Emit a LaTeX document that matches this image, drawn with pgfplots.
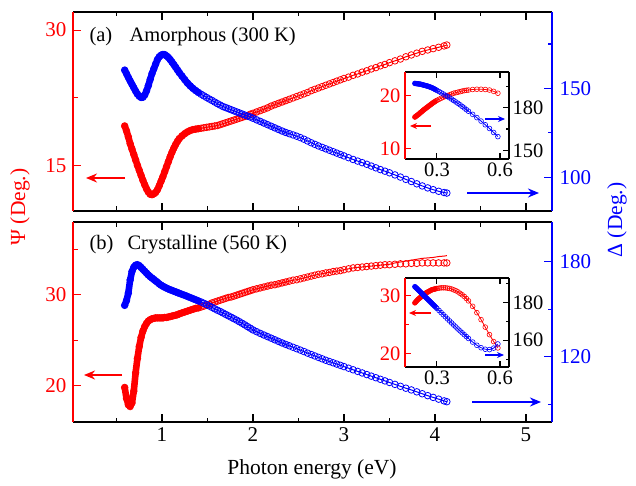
\documentclass[border=0pt]{standalone}
\usepackage{fontspec}
\setmainfont{Liberation Serif}
\usepackage{pgfplots}
\usepackage{pgfplotstable}
\pgfplotsset{compat=1.18}
\usetikzlibrary{arrows.meta}

\pgfplotstableread{
E psia dela psib delb psibfit
0.59 19.4 160.3 19.8 152.5 19.8
0.61 18.85 158.3 18.6 155.5 18.6
0.63 18.2 156.2 17.9 160.2 17.9
0.65 17.45 154.2 17.7 168.5 17.7
0.67 16.85 152.3 18.1 173.8 18.1
0.69 16.25 150.4 19.4 176.5 19.4
0.71 15.65 148.5 21.4 177.8 21.4
0.73 15.05 146.8 23.0 178.1 23.0
0.75 14.5 145.6 24.3 177.5 24.3
0.77 13.95 144.9 25.3 176.4 25.3
0.79 13.4 145.0 26.0 175.2 26.0
0.81 12.9 146.3 26.5 174.0 26.5
0.83 12.45 148.6 26.85 172.8 26.85
0.85 12.1 151.6 27.1 171.6 27.1
0.87 11.85 155.0 27.25 170.6 27.25
0.89 11.8 158.3 27.35 169.7 27.35
0.91 11.9 161.0 27.4 168.8 27.4
0.93 12.05 163.7 27.45 167.9 27.45
0.95 12.35 166.2 27.45 167.0 27.45
0.97 12.8 167.8 27.45 166.0 27.45
0.99 13.3 168.7 27.45 165.2 27.45
1.01 13.8 169.1 27.45 164.5 27.45
1.03 14.35 169.0 27.5 163.9 27.5
1.05 14.9 168.3 27.5 163.3 27.5
1.07 15.45 167.4 27.55 162.8 27.55
1.09 16.0 166.2 27.6 162.3 27.6
1.11 16.5 164.8 27.65 161.9 27.65
1.13 16.95 163.4 27.7 161.4 27.7
1.15 17.35 161.9 27.75 161.0 27.75
1.17 17.7 160.4 27.8 160.5 27.8
1.19 18.0 158.9 27.9 160.1 27.9
1.22 18.3 156.9 28.0 159.4 28.0
1.25 18.55 154.9 28.1 158.8 28.1
1.28 18.75 153.0 28.2 158.1 28.2
1.31 18.9 151.4 28.3 157.4 28.3
1.34 19.0 150.0 28.4 156.7 28.4
1.37 19.05 148.8 28.5 156.0 28.5
1.40 19.1 147.7 28.55 155.3 28.55
1.43 19.15 146.7 28.65 154.6 28.65
1.46 19.2 145.8 28.75 153.8 28.75
1.49 19.25 144.9 28.85 153.0 28.85
1.52 19.3 144.0 28.95 152.1 28.95
1.55 19.35 143.2 29.1 151.2 29.1
1.58 19.4 142.3 29.2 150.3 29.2
1.61 19.45 141.4 29.3 149.4 29.3
1.64 19.55 140.6 29.4 148.6 29.4
1.67 19.65 139.8 29.5 147.7 29.5
1.70 19.75 139.2 29.6 146.8 29.6
1.73 19.85 138.6 29.7 145.9 29.7
1.76 19.95 138.0 29.75 145.0 29.75
1.79 20.05 137.4 29.85 144.1 29.85
1.82 20.15 136.8 29.95 143.2 29.95
1.85 20.25 136.2 30.05 142.2 30.05
1.88 20.35 135.6 30.15 141.2 30.15
1.91 20.45 135.0 30.25 140.2 30.25
1.94 20.55 134.4 30.35 139.1 30.35
1.97 20.7 133.9 30.45 138.1 30.45
2.00 20.8 133.2 30.55 137.0 30.55
2.04 20.95 132.3 30.65 135.9 30.65
2.08 21.1 131.4 30.75 134.8 30.75
2.12 21.25 130.5 30.85 133.8 30.85
2.16 21.4 129.6 30.95 132.8 30.95
2.20 21.6 128.7 31.05 131.8 31.05
2.24 21.75 127.8 31.1 130.8 31.1
2.28 21.9 126.9 31.2 129.8 31.2
2.32 22.05 126.0 31.3 128.8 31.3
2.36 22.2 125.2 31.4 127.9 31.4
2.40 22.35 124.5 31.5 127.0 31.5
2.44 22.5 123.8 31.6 126.1 31.6
2.48 22.65 123.1 31.65 125.2 31.65
2.52 22.8 122.3 31.75 124.3 31.75
2.56 22.95 121.4 31.85 123.4 31.85
2.60 23.1 120.4 31.95 122.4 31.95
2.64 23.3 119.4 32.05 121.5 32.05
2.68 23.45 118.5 32.15 120.6 32.15
2.72 23.6 117.6 32.25 119.7 32.25
2.76 23.75 116.8 32.3 118.8 32.3
2.80 23.9 116.0 32.4 117.9 32.4
2.84 24.05 115.2 32.45 117.1 32.45
2.88 24.2 114.4 32.55 116.3 32.55
2.92 24.35 113.6 32.6 115.5 32.6
2.96 24.5 112.8 32.65 114.7 32.65
3.00 24.65 112.0 32.75 113.9 32.75
3.05 24.8 111.0 32.85 112.9 32.85
3.10 25.0 110.0 32.95 111.9 32.95
3.15 25.15 109.1 33.0 110.9 33.0
3.20 25.35 108.2 33.05 109.9 33.05
3.25 25.5 107.3 33.1 108.9 33.1
3.30 25.7 106.3 33.15 107.9 33.15
3.35 25.85 105.3 33.2 106.9 33.2
3.40 26.05 104.3 33.25 105.9 33.25
3.45 26.2 103.4 33.3 104.9 33.3
3.50 26.4 102.5 33.3 103.9 33.35
3.56 26.6 101.3 33.35 102.7 33.5
3.62 26.8 100.1 33.4 101.5 33.6
3.68 27.05 98.8 33.4 100.3 33.7
3.74 27.25 97.6 33.45 99.2 33.8
3.80 27.45 96.3 33.45 98.0 33.9
3.86 27.65 95.1 33.5 96.8 34.0
3.92 27.8 94.0 33.5 95.6 34.05
3.98 27.95 93.0 33.5 94.5 34.1
4.04 28.1 92.1 33.5 93.4 34.2
4.10 28.25 91.4 33.5 92.3 34.25
4.13 28.35 91.1 33.5 91.8 34.3
}\maindata

\pgfplotstableread{
E psia dela psib delb
0.195 16.0 197.0 28.8 188.3
0.200 16.15 196.9 29.0 187.8
0.205 16.3 196.8 29.2 187.3
0.210 16.45 196.7 29.4 186.7
0.215 16.6 196.6 29.55 186.2
0.220 16.8 196.5 29.7 185.6
0.225 16.95 196.3 29.85 185.1
0.230 17.1 196.1 30.0 184.5
0.235 17.3 195.9 30.15 184.0
0.240 17.45 195.7 30.3 183.4
0.245 17.6 195.5 30.45 182.9
0.250 17.75 195.3 30.55 182.3
0.255 17.9 195.1 30.65 181.8
0.260 18.05 194.9 30.75 181.2
0.265 18.2 194.6 30.85 180.7
0.270 18.35 194.3 30.95 180.1
0.275 18.5 194.0 31.05 179.6
0.280 18.65 193.7 31.1 179.0
0.285 18.8 193.3 31.15 178.5
0.290 18.9 192.9 31.2 177.9
0.295 19.05 192.5 31.25 177.4
0.300 19.15 192.1 31.3 176.8
0.31 19.35 191.3 31.35 175.7
0.32 19.55 190.4 31.4 174.6
0.33 19.75 189.6 31.4 173.5
0.34 19.9 188.7 31.4 172.4
0.35 20.05 187.8 31.35 171.3
0.36 20.2 186.9 31.3 170.2
0.37 20.35 186.0 31.2 169.1
0.38 20.5 185.0 31.05 168.0
0.39 20.6 184.0 30.9 167.0
0.40 20.7 183.0 30.7 165.9
0.41 20.8 182.0 30.45 164.9
0.42 20.9 180.9 30.2 163.9
0.43 21.0 179.8 29.9 162.9
0.44 21.05 178.6 29.55 161.9
0.45 21.1 177.5 29.15 160.9
0.47 21.2 175.3 28.2 159.0
0.49 21.25 173.0 27.1 157.3
0.51 21.25 170.6 25.9 156.0
0.53 21.2 168.0 24.6 155.2
0.55 21.1 165.4 23.3 155.0
0.57 20.85 162.6 22.1 155.8
0.59 20.5 159.7 21.0 158.0
}\insetdata

\pgfplotsset{
  base/.style={scale only axis, anchor=south west, tick align=inside,
    /pgf/number format/assume math mode=true,
    tick label style={font=\fontsize{21}{23}\selectfont}},
  mainsz/.style={width=479pt, xmin=0.022, xmax=5.286,
    major tick length=8pt, minor tick length=4.5pt},
  insz/.style={width=104pt, xmin=0.148, xmax=0.643,
    major tick length=6pt, minor tick length=3.5pt,
    tick label style={font=\fontsize{20.5}{22}\selectfont}},
  frameax/.style={base, axis x line*=box, axis y line=none, ymin=0, ymax=1,
    axis line style={line width=1.6pt, black},
    every tick/.append style={black, line width=1.1pt}},
  leftax/.style={base, axis x line=none, axis y line*=left,
    axis line style={line width=1.6pt, red},
    every tick/.append style={red, line width=1.1pt}, yticklabel style={red}},
  rightax/.style={base, axis x line=none, axis y line*=right,
    axis line style={line width=1.6pt, #1},
    every tick/.append style={#1, line width=1.1pt}, yticklabel style={#1}},
  dat/.style={#1, line width=1pt, mark=o, mark size=3.3pt, mark options={line width=0.8pt, solid}},
  band/.style={#1, line width=6.6pt, line cap=round, line join=round, no marks},
  hband/.style={#1, opacity=0.35, line width=6.4pt, line cap=butt, line join=round, no marks},
  idat/.style={#1, line width=0.8pt, mark=o, mark size=2.4pt, mark options={line width=0.6pt, solid}},
  iband/.style={#1, line width=4.8pt, line cap=round, line join=round, no marks},
}

\begin{document}
\begin{tikzpicture}
\useasboundingbox (0,0) rectangle (636pt,485pt);

% ---------- Panel (a) ----------
\begin{axis}[frameax, mainsz, at={(73pt,274pt)}, height=199pt,
  xtick={1,2,3,4,5}, minor xtick={0.5,1.5,2.5,3.5,4.5}, xticklabels={}]
\end{axis}
\begin{axis}[leftax, mainsz, at={(73pt,274pt)}, height=199pt,
  ymin=10, ymax=32, ytick={15,30}, minor ytick={22.5},
  yticklabel style={xshift=-3pt}]
\addplot[band=red, restrict x to domain=0.5:1.4] table[x=E,y=psia]{\maindata};
\addplot[hband=red, restrict x to domain=1.38:2.4] table[x=E,y=psia]{\maindata};
\addplot[dat=red] table[x=E,y=psia]{\maindata};
\end{axis}
\begin{axis}[rightax=blue, mainsz, at={(73pt,274pt)}, height=199pt,
  ymin=81, ymax=193, ytick={100,150}, minor ytick={125,175},
  yticklabel style={xshift=4pt}]
\addplot[band=blue, restrict x to domain=0.5:1.4] table[x=E,y=dela]{\maindata};
\addplot[hband=blue, restrict x to domain=1.38:2.4] table[x=E,y=dela]{\maindata};
\addplot[dat=blue] table[x=E,y=dela]{\maindata};
\end{axis}

% ---------- Panel (b) ----------
\begin{axis}[frameax, mainsz, at={(73pt,63pt)}, height=200pt,
  xtick={1,2,3,4,5}, minor xtick={0.5,1.5,2.5,3.5,4.5}, xticklabel pos=lower,
  xticklabel style={yshift=-2pt}]
\end{axis}
\begin{axis}[leftax, mainsz, at={(73pt,63pt)}, height=200pt,
  ymin=16, ymax=38, ytick={20,30}, minor ytick={25,35},
  yticklabel style={xshift=-3pt}]
\addplot[band=red, restrict x to domain=0.5:1.4] table[x=E,y=psib]{\maindata};
\addplot[hband=red, restrict x to domain=1.38:2.4] table[x=E,y=psib]{\maindata};
\addplot[red, line width=1pt] table[x=E,y=psibfit]{\maindata};
\addplot[red, only marks, mark=o, mark size=3.3pt, mark options={line width=0.8pt}] table[x=E,y=psib]{\maindata};
\end{axis}
\begin{axis}[rightax=blue, mainsz, at={(73pt,63pt)}, height=200pt,
  ymin=79, ymax=205, ytick={120,180}, minor ytick={90,150},
  yticklabel style={xshift=4pt}]
\addplot[band=blue, restrict x to domain=0.5:1.4] table[x=E,y=delb]{\maindata};
\addplot[hband=blue, restrict x to domain=1.38:2.4] table[x=E,y=delb]{\maindata};
\addplot[dat=blue] table[x=E,y=delb]{\maindata};
\end{axis}

% ---------- Inset (a) ----------
\begin{axis}[frameax, insz, at={(405pt,326pt)}, height=87pt,
  axis background/.style={fill=white},
  xtick={0.3,0.6}, xticklabel pos=lower]
\end{axis}
\begin{axis}[leftax, insz, at={(405pt,326pt)}, height=87pt,
  ymin=8.1, ymax=24.5, ytick={10,20}, yticklabel style={xshift=-1pt}]
\addplot[iband=red, restrict x to domain=0.1:0.29] table[x=E,y=psia]{\insetdata};
\addplot[idat=red] table[x=E,y=psia]{\insetdata};
\end{axis}
\begin{axis}[rightax=black, insz, at={(405pt,326pt)}, height=87pt,
  ymin=144, ymax=205, ytick={150,180}, minor ytick={165,195}]
\addplot[iband=blue, restrict x to domain=0.1:0.29] table[x=E,y=dela]{\insetdata};
\addplot[idat=blue] table[x=E,y=dela]{\insetdata};
\end{axis}

% ---------- Inset (b) ----------
\begin{axis}[frameax, insz, at={(405pt,118pt)}, height=89pt,
  axis background/.style={fill=white},
  xtick={0.3,0.6}, xticklabel pos=lower]
\end{axis}
\begin{axis}[leftax, insz, at={(405pt,118pt)}, height=89pt,
  ymin=17.7, ymax=33.1, ytick={20,30}, minor ytick={25}, yticklabel style={xshift=-1pt}]
\addplot[iband=red, restrict x to domain=0.1:0.29] table[x=E,y=psib]{\insetdata};
\addplot[idat=red] table[x=E,y=psib]{\insetdata};
\end{axis}
\begin{axis}[rightax=black, insz, at={(405pt,118pt)}, height=89pt,
  ymin=145.8, ymax=192.9, ytick={160,180}, minor ytick={150,170,190}]
\addplot[iband=blue, restrict x to domain=0.1:0.29] table[x=E,y=delb]{\insetdata};
\addplot[idat=blue] table[x=E,y=delb]{\insetdata};
\end{axis}

% ---------- arrows ----------
\draw[red, line width=2pt, -{Stealth[length=11pt,width=9pt]}] (125pt,307pt) -- (86pt,307pt);
\draw[blue, line width=2pt, -{Stealth[length=11pt,width=9pt]}] (467pt,292pt) -- (539pt,292pt);
\draw[red, line width=2pt, -{Stealth[length=11pt,width=9pt]}] (122pt,110pt) -- (84pt,110pt);
\draw[blue, line width=2pt, -{Stealth[length=11pt,width=9pt]}] (472pt,83pt) -- (541pt,83pt);
\draw[red, line width=1.3pt, -{Stealth[length=7pt,width=6pt]}] (431pt,359pt) -- (410pt,359pt);
\draw[blue, line width=1.3pt, -{Stealth[length=7pt,width=6pt]}] (485pt,366pt) -- (505pt,366pt);
\draw[red, line width=1.3pt, -{Stealth[length=7pt,width=6pt]}] (431pt,172pt) -- (409pt,172pt);
\draw[blue, line width=1.3pt, -{Stealth[length=7pt,width=6pt]}] (485pt,130pt) -- (504pt,130pt);

% ---------- texts ----------
\node[anchor=west, font=\fontsize{20.5}{22}\selectfont] at (86pt,448pt) {(a)};
\node[anchor=west, font=\fontsize{20.5}{22}\selectfont] at (126pt,448pt) {Amorphous (300 K)};
\node[anchor=west, font=\fontsize{20.5}{22}\selectfont] at (86pt,240pt) {(b)};
\node[anchor=west, font=\fontsize{20.5}{22}\selectfont] at (124pt,240pt) {Crystalline (560 K)};
\node[rotate=90, red, font=\fontsize{21.5}{24}\selectfont] at (20pt,278pt) {Ψ (Deg.)};
\node[rotate=90, blue, font=\fontsize{21.5}{24}\selectfont] at (617pt,265pt) {Δ (Deg.)};
\node[font=\fontsize{21.5}{24}\selectfont] at (312pt,16pt) {Photon energy (eV)};
\end{tikzpicture}
\end{document}
